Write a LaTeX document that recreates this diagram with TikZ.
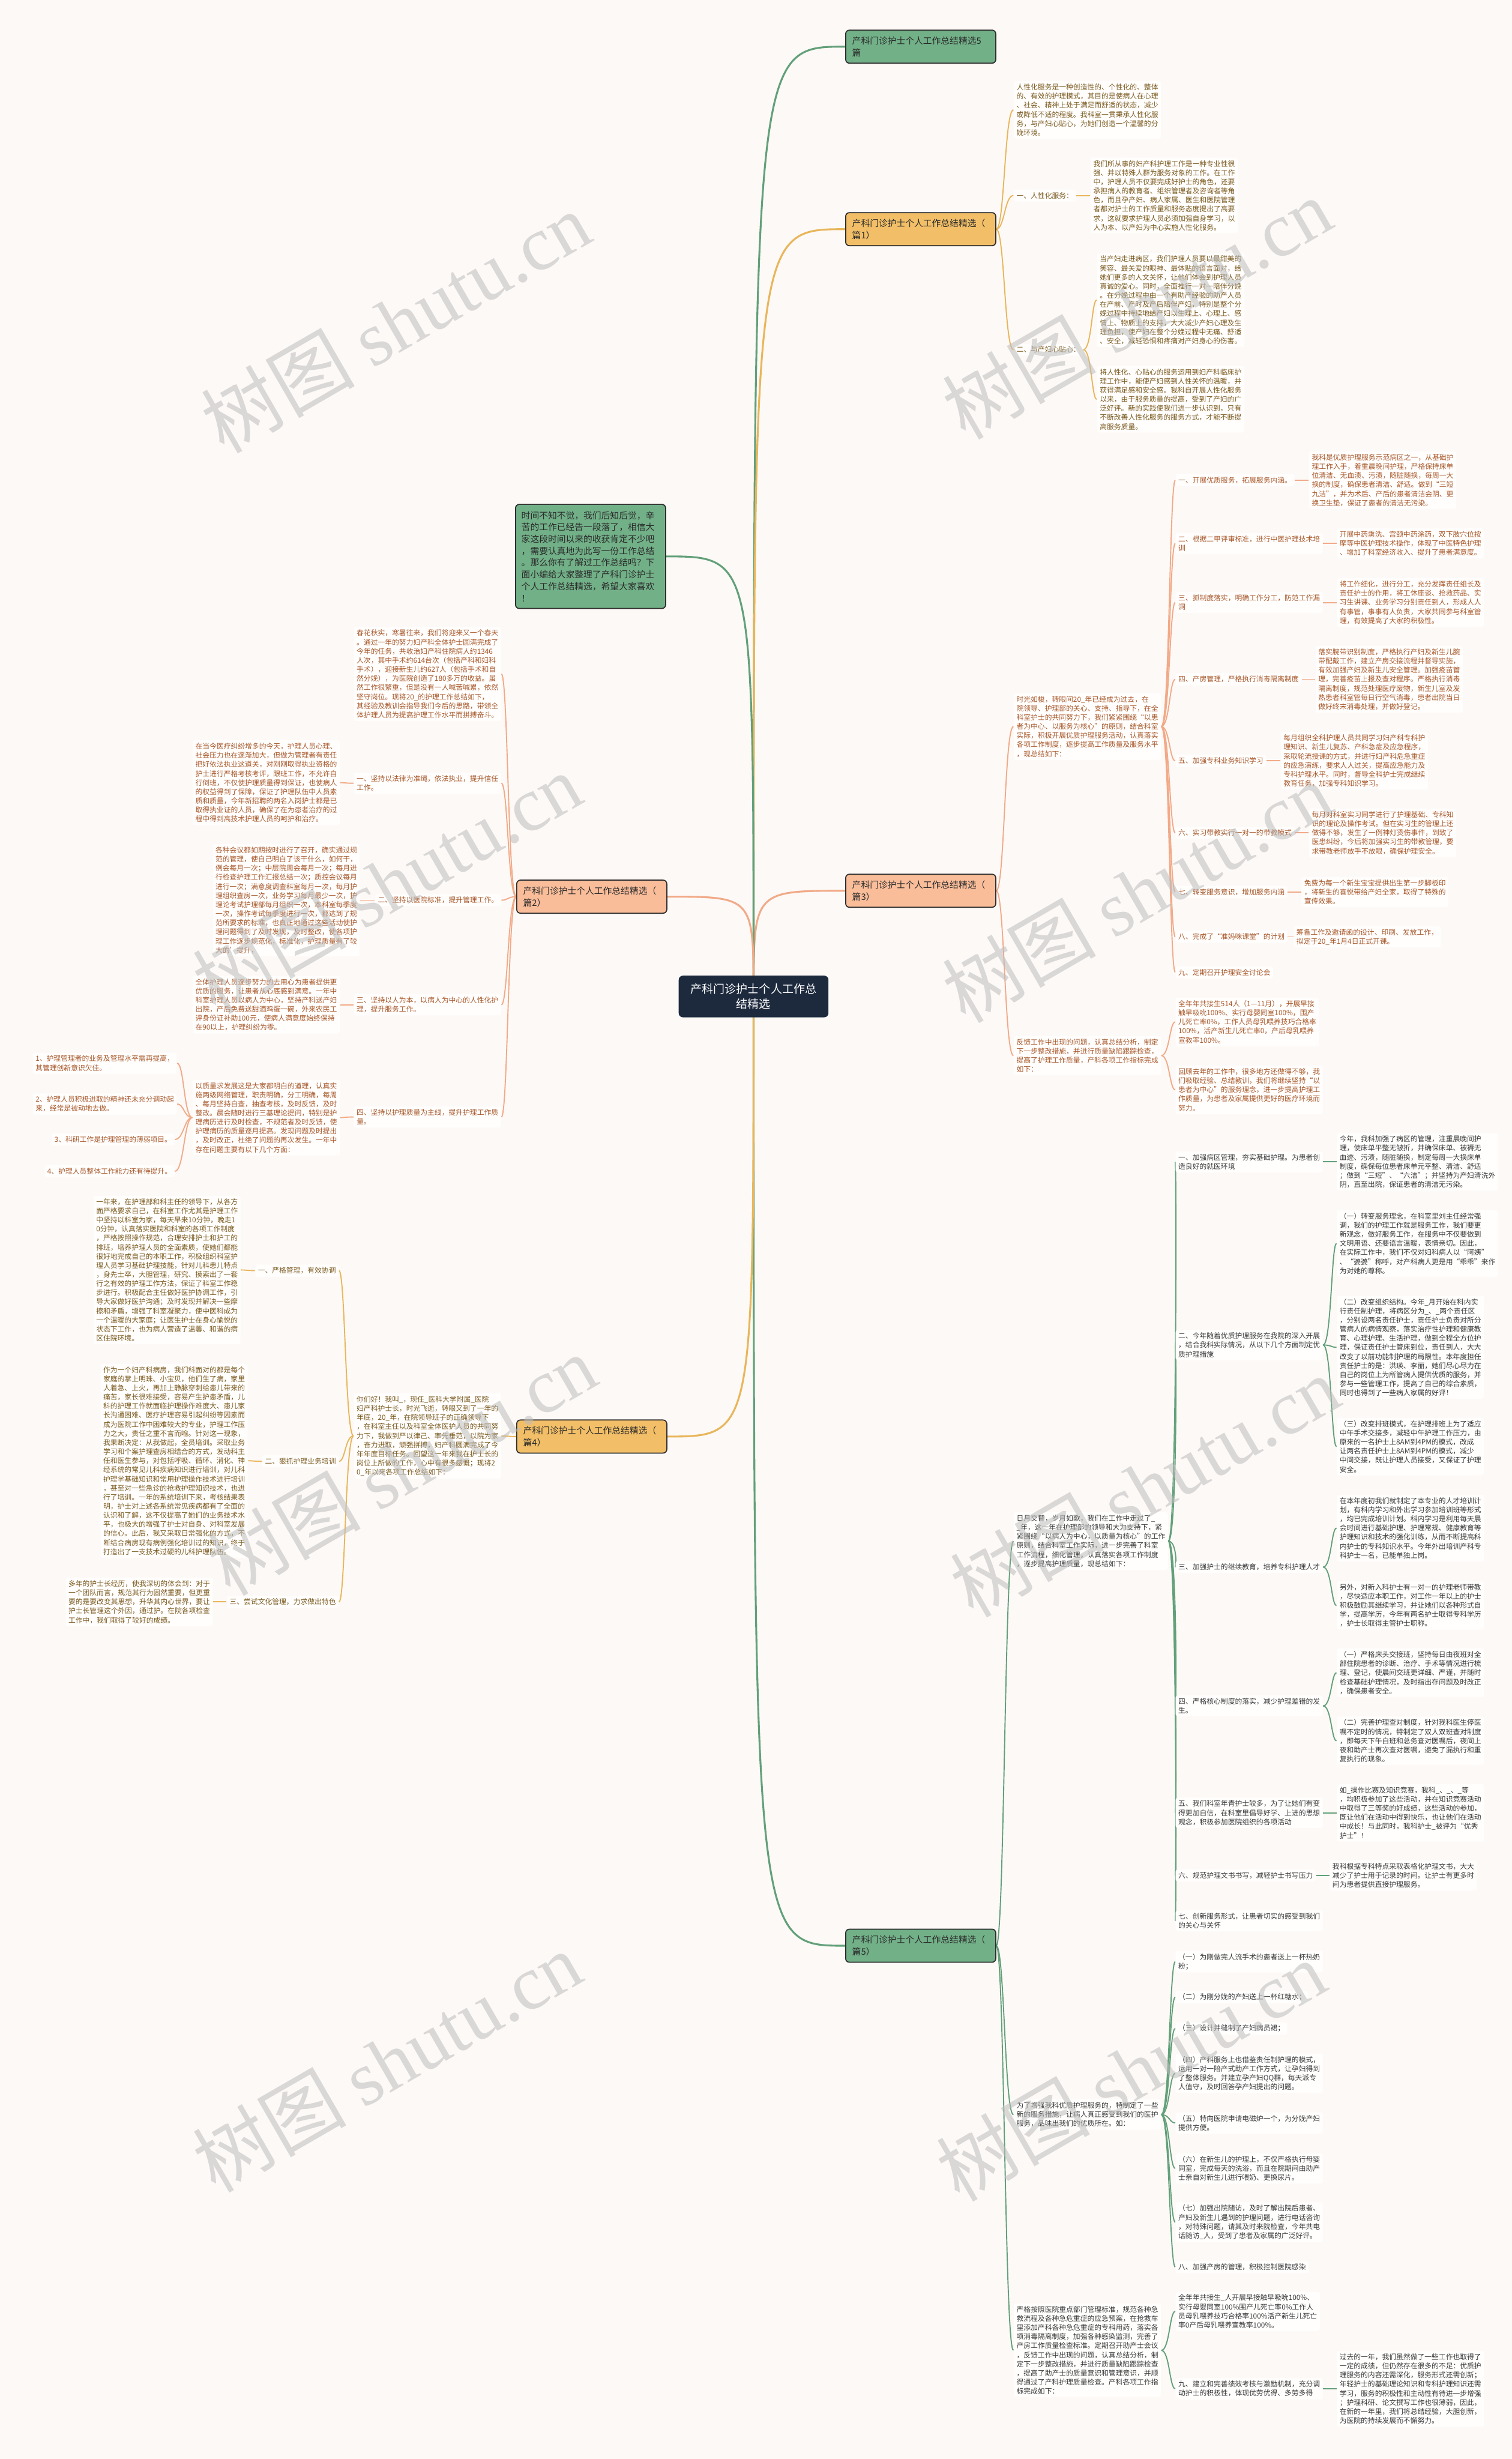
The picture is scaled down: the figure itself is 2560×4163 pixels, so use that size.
\documentclass[tikz,border=0pt]{standalone}
\usepackage{fontspec}
\setmainfont{Noto Sans CJK SC}
\newfontfamily\wmlat{Liberation Serif}
\usetikzlibrary{calc}
\definecolor{bgc}{HTML}{FDF9F7}
\definecolor{boxc}{HTML}{FFFEFD}
\definecolor{gF}{HTML}{72B088}
\definecolor{gL}{HTML}{62A079}
\definecolor{yF}{HTML}{F2BF68}
\definecolor{yL}{HTML}{E8B65A}
\definecolor{sF}{HTML}{F9BD9A}
\definecolor{sL}{HTML}{F1AA88}
\definecolor{cF}{HTML}{1D2A3E}
\definecolor{edgec}{HTML}{2E2E2E}
\definecolor{maintext}{HTML}{2A2A2A}
\definecolor{tY}{HTML}{7B5A1F}
\definecolor{tS}{HTML}{A8582A}
\definecolor{tG}{HTML}{3A3A3A}
\definecolor{wmc}{HTML}{BDBDBD}
\newcommand{\ft}{\fontsize{3.41pt}{4.38pt}\selectfont}
\newcommand{\fm}{\fontsize{4.27pt}{5.7pt}\selectfont}
\newcommand{\fc}{\fontsize{5.5pt}{7.4pt}\selectfont}
\pgfdeclarelayer{back}\pgfdeclarelayer{lines}
\pgfsetlayers{back,lines,main}
\newcommand{\cR}[3]{\draw[#1] (#2) .. controls ($(#2)+(14,0)$) and ($(#2 |- #3)+(14,0)$) .. (#3);}
\newcommand{\cL}[3]{\draw[#1] (#2) .. controls ($(#2)+(-14,0)$) and ($(#2 |- #3)+(-14,0)$) .. (#3);}
\newcommand{\nR}[5]{\node[tx,anchor=west,text=#1] (#2) at (#3,#4) {#5};}
\newcommand{\nL}[5]{\node[tx,anchor=east,text=#1] (#2) at (#3,#4) {#5};}
\tikzset{
  tx/.style={inner sep=1.3pt, fill=boxc, rounded corners=1pt, align=left, font=\ft},
  mainbox/.style={draw=edgec, line width=0.5pt, rounded corners=1.8pt, text width=2.32cm, inner xsep=0.11cm, inner ysep=1pt, minimum height=0.56cm, align=left, font=\fm, text=maintext},
  cbox/.style={draw=cF, fill=cF, rounded corners=1.8pt, minimum width=2.52cm, minimum height=0.69cm, align=center, font=\fc, text=white},
  bigG/.style={draw=gL, line width=0.9pt},
  bigY/.style={draw=yL, line width=0.9pt},
  bigS/.style={draw=sL, line width=0.9pt},
  lG/.style={draw=gL, line width=0.55pt},
  lY/.style={draw=yL, line width=0.55pt},
  lS/.style={draw=sL, line width=0.55pt},
  wm/.style={text=wmc, opacity=0.55, rotate=30, font=\fontsize{37pt}{39pt}\selectfont}
}
\begin{document}
\begin{tikzpicture}[x=0.01cm,y=-0.01cm]
\begin{pgfonlayer}{back}
\fill[bgc] (0,0) rectangle (2560,4163);
\end{pgfonlayer}
\useasboundingbox (0,0) rectangle (2560,4163);

% centre and main nodes
\node[cbox] (C) at (1276,1687) {产科门诊护士个人工作总\\结精选};
\node[mainbox, fill=gF] (M5t) at (1559,79) {产科门诊护士个人工作总结精选5\\篇};
\node[mainbox, fill=yF] (M1) at (1559,388) {产科门诊护士个人工作总结精选（\\篇1）};
\node[mainbox, fill=sF] (M3) at (1559,1508) {产科门诊护士个人工作总结精选（\\篇3）};
\node[mainbox, fill=gF] (M5) at (1559,3294) {产科门诊护士个人工作总结精选（\\篇5）};
\node[mainbox, fill=sF] (M2) at (1002,1518) {产科门诊护士个人工作总结精选（\\篇2）};
\node[mainbox, fill=yF] (M4) at (1002,2432) {产科门诊护士个人工作总结精选（\\篇4）};
\node[mainbox, fill=gF, text width=2.34cm, inner xsep=0.1cm, inner ysep=3.3pt] (I0) at (1000,942) {时间不知不觉，我们后知后觉，辛\\苦的工作已经告一段落了，相信大\\家这段时间以来的收获肯定不少吧\\，需要认真地为此写一份工作总结\\。那么你有了解过工作总结吗？下\\面小编给大家整理了产科门诊护士\\个人工作总结精选，希望大家喜欢\\！};

% ---------- 篇1 ----------
\nR{tY}{p1A}{1716}{186}{人性化服务是一种创造性的、个性化的、整体\\的、有效的护理模式，其目的是使病人在心理\\、社会、精神上处于满足而舒适的状态，减少\\或降低不适的程度。我科室一贯秉承人性化服\\务，与产妇心贴心，为她们创造一个温馨的分\\娩环境。}
\nR{tY}{i1a}{1716}{331}{一、人性化服务：}
\nR{tY}{p1B}{1846}{331}{我们所从事的妇产科护理工作是一种专业性很\\强、并以特殊人群为服务对象的工作。在工作\\中，护理人员不仅要完成好护士的角色，还要\\承担病人的教育者、组织管理者及咨询者等角\\色，而且孕产妇、病人家属、医生和医院管理\\者都对护士的工作质量和服务态度提出了高要\\求，这就要求护理人员必须加强自身学习，以\\人为本、以产妇为中心实施人性化服务。}
\nR{tY}{i1b}{1716}{592}{二、与产妇心贴心：}
\nR{tY}{p1C}{1857}{508}{当产妇走进病区，我们护理人员要以最甜美的\\笑容、最关爱的眼神、最体贴的语言面对，给\\她们更多的人文关怀，让他们体会到护理人员\\真诚的爱心。同时，全面推行一对一陪伴分娩\\。在分娩过程中由一个有助产经验的助产人员\\在产前、产时及产后陪伴产妇，特别是整个分\\娩过程中持续地给产妇以生理上、心理上、感\\情上、物质上的支持，大大减少产妇心理及生\\理负担，使产妇在整个分娩过程中无痛、舒适\\、安全，减轻恐惧和疼痛对产妇身心的伤害。}
\nR{tY}{p1D}{1857}{676}{将人性化、心贴心的服务运用到妇产科临床护\\理工作中，能使产妇感到人性关怀的温暖，并\\获得满足感和安全感。我科自开展人性化服务\\以来，由于服务质量的提高，受到了产妇的广\\泛好评。新的实践使我们进一步认识到，只有\\不断改善人性化服务的服务方式，才能不断提\\高服务质量。}

% ---------- 篇3 ----------
\nR{tS}{p3A}{1716}{1230}{时光如梭，转眼间20\_年已经成为过去，在\\院领导、护理部的关心、支持、指导下，在全\\科室护士的共同努力下，我们紧紧围绕“以患\\者为中心、以服务为核心”的原则，结合科室\\实际，积极开展优质护理服务活动，认真落实\\各项工作制度，逐步提高工作质量及服务水平\\，现总结如下：}
\nR{tS}{i31}{1990}{813}{一、开展优质服务，拓展服务内涵。}
\nR{tS}{d31}{2216}{813}{我科是优质护理服务示范病区之一，从基础护\\理工作入手，着重晨晚间护理，严格保持床单\\位清洁、无血渍、污渍，随脏随换，每周一大\\换的制度，确保患者清洁、舒适。做到“三短\\九洁”，并为术后、产后的患者清洁会阴、更\\换卫生垫，保证了患者的清洁无污染。}
\nR{tS}{i32}{1990}{920}{二、根据二甲评审标准，进行中医护理技术培\\训}
\nR{tS}{d32}{2263}{920}{开展中药熏洗、宫颈中药涂药，双下肢穴位按\\摩等中医护理技术操作，体现了中医特色护理\\、增加了科室经济收入、提升了患者满意度。}
\nR{tS}{i33}{1990}{1020}{三、抓制度落实，明确工作分工，防范工作漏\\洞}
\nR{tS}{d33}{2263}{1020}{将工作细化，进行分工，充分发挥责任组长及\\责任护士的作用，将工休座谈、抢救药品、实\\习生讲课、业务学习分别责任到人，形成人人\\有事管，事事有人负责，大家共同参与科室管\\理，有效提高了大家的积极性。}
\nR{tS}{i34}{1990}{1150}{四、产房管理，严格执行消毒隔离制度}
\nR{tS}{d34}{2227}{1150}{落实腕带识别制度，严格执行产妇及新生儿腕\\带配戴工作，建立产房交接流程并督导实施，\\有效加强产妇及新生儿安全管理。加强疫苗管\\理，完善疫苗上报及查对程序。严格执行消毒\\隔离制度，规范处理医疗废物，新生儿室及发\\热患者科室管每日行空气消毒，患者出院当日\\做好终末消毒处理，并做好登记。}
\nR{tS}{i35}{1990}{1288}{五、加强专科业务知识学习}
\nR{tS}{d35}{2168}{1288}{每月组织全科护理人员共同学习妇产科专科护\\理知识、新生儿复苏、产科急症及应急程序，\\采取轮流授课的方式，并进行妇产科危急重症\\的应急演练，要求人人过关，提高应急能力及\\专科护理水平。同时，督导全科护士完成继续\\教育任务，加强专科知识学习。}
\nR{tS}{i36}{1990}{1410}{六、实习带教实行一对一的带教模式}
\nR{tS}{d36}{2216}{1410}{每月对科室实习同学进行了护理基础、专科知\\识的理论及操作考试。但在实习生的管理上还\\做得不够，发生了一例神灯烫伤事件，到致了\\医患纠纷，今后将加强实习生的带教管理，要\\求带教老师放手不放眼，确保护理安全。}
\nR{tS}{i37}{1990}{1510}{七、转变服务意识，增加服务内涵}
\nR{tS}{d37}{2203}{1510}{免费为每一个新生宝宝提供出生第一步脚板印\\，将新生的喜悦带给产妇全家，取得了特殊的\\宣传效果。}
\nR{tS}{i38}{1990}{1586}{八、完成了“准妈咪课堂”的计划}
\nR{tS}{d38}{2190}{1586}{筹备工作及邀请函的设计、印刷、发放工作，\\拟定于20\_年1月4日正式开课。}
\nR{tS}{i39}{1990}{1646}{九、定期召开护理安全讨论会}
\nR{tS}{p3B}{1716}{1787}{反馈工作中出现的问题，认真总结分析，制定\\下一步整改措施，并进行质量缺陷跟踪检查，\\提高了护理工作质量，产科各项工作指标完成\\如下：}
\nR{tS}{p3B1}{1990}{1730}{全年年共接生514人（1—11月），开展早接\\触早吸吮100\%、实行母婴同室100\%，围产\\儿死亡率0\%，工作人员母乳喂养技巧合格率\\100\%，活产新生儿死亡率0，产后母乳喂养\\宣教率100\%。}
\nR{tS}{p3B2}{1990}{1845}{回顾去年的工作中，很多地方还做得不够，我\\们吸取经验、总结教训，我们将继续坚持“以\\患者为中心”的服务理念，进一步提高护理工\\作质量，为患者及家属提供更好的医疗环境而\\努力。}

% ---------- 篇5 ----------
\nR{tG}{p5A}{1716}{2609}{日月交替，岁月如歌，我们在工作中走过了\_\\\_年，这一年在护理部的领导和大力支持下，紧\\紧围绕“以病人为中心，以质量为核心”的工作\\原则，结合科室工作实际，进一步完善了科室\\工作流程，细化管理，认真落实各项工作制度\\，逐步提高护理质量，现总结如下：}
\nR{tG}{i51}{1990}{1967}{一、加强病区管理，夯实基础护理。为患者创\\造良好的就医环境}
\nR{tG}{d51}{2263}{1967}{今年，我科加强了病区的管理，注重晨晚间护\\理，使床单平整无皱折，并确保床单、被褥无\\血迹、污渍，随脏随换，制定每周一大换床单\\制度，确保每位患者床单元平整、清洁、舒适\\；做到“三短”、“六洁”；并坚持为产妇清洗外\\阴，直至出院，保证患者的清洁无污染。}
\nR{tG}{i52}{1990}{2277}{二、今年随着优质护理服务在我院的深入开展\\，结合我科实际情况，从以下几个方面制定优\\质护理措施}
\nR{tG}{d52a}{2263}{2105}{（一）转变服务理念，在科室里刘主任经常强\\调，我们的护理工作就是服务工作，我们要更\\新观念，做好服务工作，在服务中不仅要做到\\文明用语、还要语言温暖，表情亲切。因此，\\在实际工作中，我们不仅对妇科病人以“阿姨”\\、“婆婆”称呼，对产科病人更是用“乖乖”来作\\为对她的尊称。}
\nR{tG}{d52b}{2263}{2281}{（二）改变组织结构。今年\_月开始在科内实\\行责任制护理，将病区分为\_、\_两个责任区\\，分别设两名责任护士，责任护士负责对所分\\管病人的病情观察，落实治疗性护理和健康教\\育、心理护理、生活护理，做到全程全方位护\\理，保证责任护士管床到位，责任到人，大大\\改变了以前功能制护理的局限性。本年度担任\\责任护士的是：洪瑛、李丽，她们尽心尽力在\\自己的岗位上为所管病人提供优质的服务，并\\参与一些管理工作，提高了自己的综合素质，\\同时也得到了一些病人家属的好评！}
\nR{tG}{d52c}{2263}{2449}{（三）改变排班模式，在护理排班上为了适应\\中午手术交接多，减轻中午护理工作压力，由\\原来的一名护士上8AM到4PM的模式，改成\\让两名责任护士上8AM到4PM的模式，减少\\中间交接，既让护理人员接受，又保证了护理\\安全。}
\nR{tG}{i53}{1990}{2653}{三、加强护士的继续教育，培养专科护理人才}
\nR{tG}{d53a}{2263}{2587}{在本年度初我们就制定了本专业的人才培训计\\划，有科内学习和外出学习参加培训班等形式\\，均已完成培训计划。科内学习是利用每天晨\\会时间进行基础护理、护理常规、健康教育等\\护理知识和技术的强化训练，从而不断提高科\\内护士的专科知识水平。今年外出培训产科专\\科护士一名，已能单独上岗。}
\nR{tG}{d53b}{2263}{2718}{另外，对新入科护士有一对一的护理老师带教\\，尽快适应本职工作，对工作一年以上的护士\\积极鼓励其继续学习，并让她们以各种形式自\\学，提高学历，今年有两名护士取得专科学历\\，护士长取得主管护士职称。}
\nR{tG}{i54}{1990}{2888}{四、严格核心制度的落实，减少护理差错的发\\生。}
\nR{tG}{d54a}{2263}{2832}{（一）严格床头交接班，坚持每日由夜班对全\\部住院患者的诊断、治疗、手术等情况进行梳\\理、登记，使晨间交班更详细、严谨，并随时\\检查基础护理情况，及时指出存问题及时改正\\，确保患者安全。}
\nR{tG}{d54b}{2263}{2947}{（二）完善护理查对制度，针对我科医生停医\\嘱不定时的情况，特制定了双人双班查对制度\\，即每天下午白班和总务查对医嘱后，夜间上\\夜和助产士再次查对医嘱，避免了漏执行和重\\复执行的现象。}
\nR{tG}{i55}{1990}{3069}{五、我们科室年青护士较多，为了让她们有变\\得更加自信，在科室里倡导好学、上进的思想\\观念，积极参加医院组织的各项活动}
\nR{tG}{d55}{2263}{3069}{如\_操作比赛及知识竞赛，我科\_、\_、\_等\\，均积极参加了这些活动，并在知识竞赛活动\\中取得了三等奖的好成绩，这些活动的参加，\\既让他们在活动中得到快乐，也让他们在活动\\中成长！与此同时，我科护士\_被评为“优秀\\护士”！}
\nR{tG}{i56}{1990}{3175}{六、规范护理文书书写，减轻护士书写压力}
\nR{tG}{d56}{2251}{3175}{我科根据专科特点采取表格化护理文书，大大\\减少了护士用于记录的时间。让护士有更多时\\间为患者提供直接护理服务。}
\nR{tG}{i57}{1990}{3252}{七、创新服务形式，让患者切实的感受到我们\\的关心与关怀}
\nR{tG}{p5B}{1716}{3580}{为了增强我科优质护理服务的，特制定了一些\\新的服务措施，让病人真正感受到我们的医护\\服务，品味出我们的优质所在。如：}
\nR{tG}{j51}{1990}{3321}{（一）为刚做完人流手术的患者送上一杯热奶\\粉；}
\nR{tG}{j52}{1990}{3381}{（二）为刚分娩的产妇送上一杯红糖水；}
\nR{tG}{j53}{1990}{3434}{（三）设计并缝制了产妇病员裙；}
\nR{tG}{j54}{1990}{3510}{（四）产科服务上也借鉴责任制护理的模式，\\运用一对一陪产式助产工作方式，让孕妇得到\\了整体服务。并建立孕产妇QQ群，每天派专\\人值守，及时回答孕产妇提出的问题。}
\nR{tG}{j55}{1990}{3594}{（五）特向医院申请电磁炉一个，为分娩产妇\\提供方便。}
\nR{tG}{j56}{1990}{3671}{（六）在新生儿的护理上，不仅严格执行母婴\\同室，完成每天的洗浴，而且在院期间由助产\\士亲自对新生儿进行喂奶、更换尿片。}
\nR{tG}{j57}{1990}{3762}{（七）加强出院随访，及时了解出院后患者、\\产妇及新生儿遇到的护理问题，进行电话咨询\\，对特殊问题，请其及时来院检查，今年共电\\话随访\_人，受到了患者及家属的广泛好评。}
\nR{tG}{j58}{1990}{3838}{八、加强产房的管理，积极控制医院感染}
\nR{tG}{p5C}{1716}{3979}{严格按照医院重点部门管理标准，规范各种急\\救流程及各种急危重症的应急预案，在抢救车\\里添加产科各种急危重症的专科用药，落实各\\项消毒隔离制度，加强各种感染监测，完善了\\产房工作质量检查标准。定期召开助产士会议\\，反馈工作中出现的问题，认真总结分析，制\\定下一步整改措施，并进行质量缺陷跟踪检查\\，提高了助产士的质量意识和管理意识，并顺\\得通过了产科护理质量检查。产科各项工作指\\标完成如下：}
\nR{tG}{k51}{1990}{3913}{全年年共接生\_人开展早接触早吸吮100\%、\\实行母婴同室100\%围产儿死亡率0\%工作人\\员母乳喂养技巧合格率100\%活产新生儿死亡\\率0产后母乳喂养宣教率100\%。}
\nR{tG}{k52}{1990}{4044}{九、建立和完善绩效考核与激励机制，充分调\\动护士的积极性，体现优劳优得、多劳多得}
\nR{tG}{k52d}{2263}{4044}{过去的一年，我们虽然做了一些工作也取得了\\一定的成绩，但仍然存在很多的不足：优质护\\理服务的内容还需深化，服务形式还需创新；\\年轻护士的基础理论知识和专科护理知识还需\\学习，服务的积极性和主动性有待进一步增强\\；护理科研、论文撰写工作也很薄弱，因此，\\在新的一年里，我们将总结经验，大胆创新，\\为医院的持续发展而不懈努力。}

% ---------- 篇2 ----------
\nL{tS}{L20}{849}{1141}{春花秋实，寒暑往来，我们将迎来又一个春天\\。通过一年的努力妇产科全体护士圆满完成了\\今年的任务，共收治妇产科住院病人约1346\\人次，其中手术约614台次（包括产科和妇科\\手术），迎接新生儿约627人（包括手术和自\\然分娩），为医院创造了180多万的收益。虽\\然工作很繁重，但是没有一人喊苦喊累，依然\\坚守岗位。现将20\_的护理工作总结如下，\\其经验及教训会指导我们今后的思路，带领全\\体护理人员为提高护理工作水平而拼搏奋斗。}
\nL{tS}{L21}{849}{1326}{一、坚持以法律为准绳，依法执业，提升信任\\工作。}
\nL{tS}{L21d}{576}{1325}{在当今医疗纠纷增多的今天，护理人员心理、\\社会压力也在逐渐加大，但做为管理者有责任\\把好依法执业这道关，对刚刚取得执业资格的\\护士进行严格考核考评，跟班工作，不允许自\\行倒班，不仅使护理质量得到保证，也使病人\\的权益得到了保障，保证了护理队伍中人员素\\质和质量，今年新招聘的两名入岗护士都是已\\取得执业证的人员，确保了在为患者治疗的过\\程中得到高技术护理人员的呵护和治疗。}
\nL{tS}{L22}{849}{1524}{二、坚持以医院标准，提升管理工作。}
\nL{tS}{L22d}{610}{1524}{各种会议都如期按时进行了召开，确实通过规\\范的管理，使自己明白了该干什么，如何干，\\例会每月一次；中层院周会每月一次；每月进\\行检查护理工作汇报总结一次；质控会议每月\\进行一次；满意度调查科室每月一次，每月护\\理组织查房一次，业务学习每月最少一次，护\\理论考试护理部每月组织一次，本科室每季度\\一次，操作考试每季度进行一次，都达到了规\\范所要求的标准，也真正地通过这些活动使护\\理问题得到了及时发现，及时整改，使各项护\\理工作逐步规范化，标准化，护理质量有了较\\大的'提升，}
\nL{tS}{L23}{849}{1701}{三、坚持以人为本，以病人为中心的人性化护\\理，提升服务工作。}
\nL{tS}{L23d}{576}{1701}{全体护理人员逐步努力的去用心为患者提供更\\优质的服务，让患者从心底感到满意。一年中\\科室护理人员以病人为中心，坚持产科送产妇\\出院，产后免费送甜酒鸡蛋一碗，外来农民工\\评身份证补助100元，使病人满意度始终保持\\在90以上，护理纠纷为零。}
\nL{tS}{L24}{849}{1891}{四、坚持以护理质量为主线，提升护理工作质\\量。}
\nL{tS}{L24d}{576}{1892}{以质量求发展这是大家都明白的道理，认真实\\施两级网络管理，职责明确，分工明确，每周\\、每月坚持自查，抽查考核，及时反馈，及时\\整改。晨会随时进行三基理论提问，特别是护\\理病历进行及时检查，不规范者及时反馈，使\\护理病历的质量逐月提高。发现问题及时提出\\，及时改正，杜绝了问题的再次发生。一年中\\存在问题主要有以下几个方面：}
\nL{tS}{q1}{300}{1800}{1、护理管理者的业务及管理水平需再提高，\\其管理创新意识欠佳。}
\nL{tS}{q2}{300}{1869}{2、护理人员积极进取的精神还未充分调动起\\来，经常是被动地去做。}
\nL{tS}{q3}{296}{1929}{3、科研工作是护理管理的薄弱项目。}
\nL{tS}{q4}{296}{1983}{4、护理人员整体工作能力还有待提升。}

% ---------- 篇4 ----------
\nL{tY}{L40}{849}{2431}{你们好！我叫\_，现任\_医科大学附属\_医院\\妇产科护士长，时光飞逝，转眼又到了一年的\\年底，20\_年，在院领导班子的正确领导下\\，在科室主任以及科室全体医护人员的共同努\\力下，我做到严以律己、率先垂范，以院为家\\，奋力进取，顽强拼搏，妇产科圆满完成了今\\年年度目标任务。回望这一年来我在护士长的\\岗位上所做的工作，心中有很多感慨；现将2\\0\_年以来各项工作总结如下：}
\nL{tY}{L41}{574}{2151}{一、严格管理，有效协调}
\nL{tY}{L41d}{408}{2150}{一年来，在护理部和科主任的领导下，从各方\\面严格要求自己，在科室工作尤其是护理工作\\中坚持以科室为家，每天早来10分钟，晚走1\\0分钟，认真落实医院和科室的各项工作制度\\，严格按照操作规范，合理安排护士和护工的\\排班，培养护理人员的全面素质，使她们都能\\很好地完成自己的本职工作，积极组织科室护\\理人员学习基础护理技能，针对儿科患儿特点\\，身先士卒，大胆管理，研究、摸索出了一套\\行之有效的护理工作方法，保证了科室工作稳\\步进行。积极配合主任做好医护协调工作，引\\导大家做好医护沟通；及时发现并解决一些摩\\擦和矛盾，增强了科室凝聚力，使中医科成为\\一个温暖的大家庭；让医生护士在身心愉悦的\\状态下工作，也为病人营造了温馨、和谐的病\\区住院环境。}
\nL{tY}{L42}{574}{2474}{二、狠抓护理业务培训}
\nL{tY}{L42d}{420}{2473}{作为一个妇产科病房，我们科面对的都是每个\\家庭的掌上明珠、小宝贝，他们生了病，家里\\人着急、上火，再加上静脉穿刺给患儿带来的\\痛苦，家长很难接受，容易产生护患矛盾，儿\\科的护理工作就面临护理操作难度大、患儿家\\长沟通困难、医疗护理容易引起纠纷等因素而\\成为医院工作中困难较大的专业，护理工作压\\力之大，责任之重不言而喻。针对这一现象，\\我果断决定：从我做起，全员培训。采取业务\\学习和个案护理查房相结合的方式，发动科主\\任和医生参与，对包括呼吸、循环、消化、神\\经系统的常见儿科疾病知识进行培训，对儿科\\护理学基础知识和常用护理操作技术进行培训\\，甚至对一些急诊的抢救护理知识技术，也进\\行了培训。一年的系统培训下来，考核结果表\\明，护士对上述各系统常见疾病都有了全面的\\认识和了解，这不仅提高了她们的业务技术水\\平，也极大的增强了护士对自身、对科室发展\\的信心。此后，我又采取日常强化的方式，不\\断结合病房现有病例强化培训过的知识，终于\\打造出了一支技术过硬的儿科护理队伍。}
\nL{tY}{L43}{574}{2712}{三、尝试文化管理，力求做出特色}
\nL{tY}{L43d}{361}{2712}{多年的护士长经历，使我深切的体会到：对于\\一个团队而言，规范其行为固然重要，但更重\\要的是要改变其思想，升华其内心世界，要让\\护士长管理这个外因，通过护。在院各项检查\\工作中，我们取得了较好的成绩。}

% ---------- connectors ----------
\begin{pgfonlayer}{lines}
\draw[bigG] (C.center) .. controls (C.center |- M5t.west) .. (M5t.west);
\draw[bigY] (C.center) .. controls (C.center |- M1.west) .. (M1.west);
\draw[bigS] (C.center) .. controls (C.center |- M3.west) .. (M3.west);
\draw[bigG] (C.center) .. controls (C.center |- M5.west) .. (M5.west);
\draw[bigG] (C.center) .. controls (C.center |- I0.east) .. (I0.east);
\draw[bigS] (C.center) .. controls (C.center |- M2.east) .. (M2.east);
\draw[bigY] (C.center) .. controls (C.center |- M4.east) .. (M4.east);
% 篇1
\cR{lY}{M1.east}{p1A.west}
\cR{lY}{M1.east}{i1a.west}
\cR{lY}{M1.east}{i1b.west}
\cR{lY}{i1a.east}{p1B.west}
\cR{lY}{i1b.east}{p1C.west}
\cR{lY}{i1b.east}{p1D.west}
% 篇3
\cR{lS}{M3.east}{p3A.west}
\cR{lS}{M3.east}{p3B.west}
\foreach \k in {1,...,9}{\cR{lS}{p3A.east}{i3\k.west}}
\foreach \k in {1,...,8}{\cR{lS}{i3\k.east}{d3\k.west}}
\cR{lS}{p3B.east}{p3B1.west}
\cR{lS}{p3B.east}{p3B2.west}
% 篇5
\cR{lG}{M5.east}{p5A.west}
\cR{lG}{M5.east}{p5B.west}
\cR{lG}{M5.east}{p5C.west}
\foreach \k in {1,...,7}{\cR{lG}{p5A.east}{i5\k.west}}
\cR{lG}{i51.east}{d51.west}
\cR{lG}{i52.east}{d52a.west}
\cR{lG}{i52.east}{d52b.west}
\cR{lG}{i52.east}{d52c.west}
\cR{lG}{i53.east}{d53a.west}
\cR{lG}{i53.east}{d53b.west}
\cR{lG}{i54.east}{d54a.west}
\cR{lG}{i54.east}{d54b.west}
\cR{lG}{i55.east}{d55.west}
\cR{lG}{i56.east}{d56.west}
\foreach \k in {1,...,8}{\cR{lG}{p5B.east}{j5\k.west}}
\cR{lG}{p5C.east}{k51.west}
\cR{lG}{p5C.east}{k52.west}
\cR{lG}{k52.east}{k52d.west}
% 篇2
\cL{lS}{M2.west}{L20.east}
\foreach \k in {1,...,4}{\cL{lS}{M2.west}{L2\k.east}}
\foreach \k in {1,...,4}{\cL{lS}{L2\k.west}{L2\k d.east}}
\foreach \k in {1,...,4}{\cL{lS}{L24d.west}{q\k.east}}
% 篇4
\cL{lY}{M4.west}{L40.east}
\foreach \k in {1,...,3}{\cL{lY}{L40.west}{L4\k.east}}
\foreach \k in {1,...,3}{\cL{lY}{L4\k.west}{L4\k d.east}}
\end{pgfonlayer}

% ---------- watermarks ----------
\foreach \wx/\wy in {670/545, 1925/522, 655/1495, 1925/1510, 680/2480, 1938/2516, 655/3490, 1915/3505}{
  \node[wm] at (\wx,\wy) {树图 {\wmlat shutu.cn}};
}
\end{tikzpicture}
\end{document}
